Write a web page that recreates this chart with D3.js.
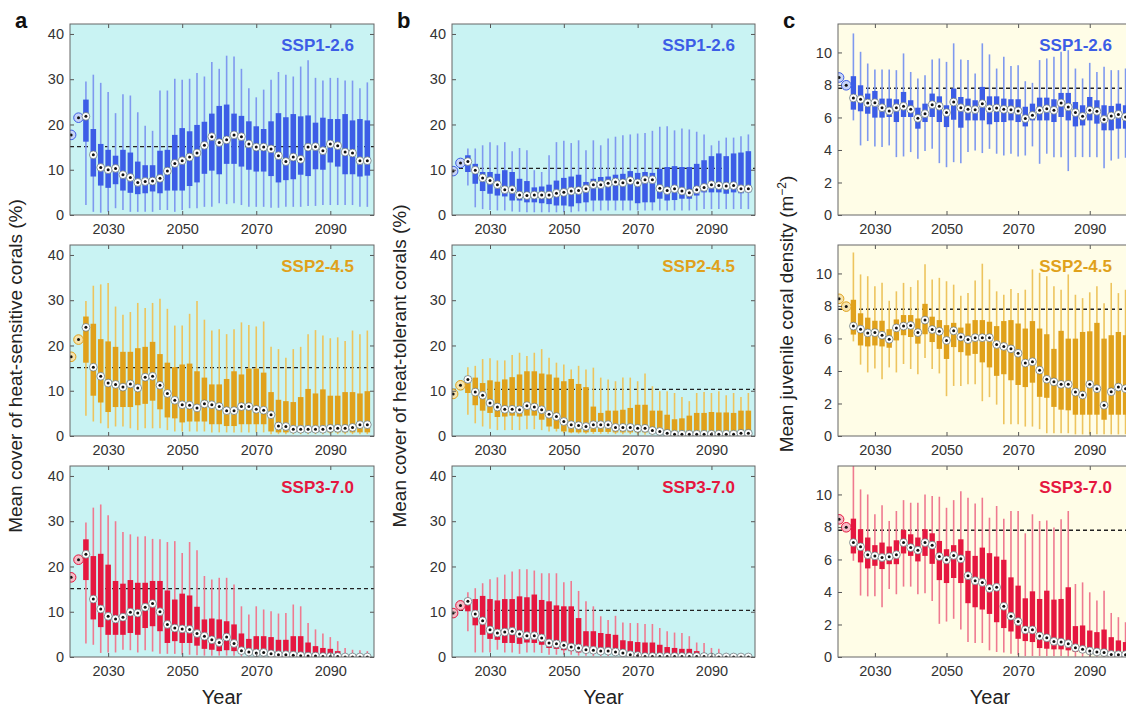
<!DOCTYPE html>
<html>
<head>
<meta charset="utf-8">
<script src="https://cdn.jsdelivr.net/npm/d3@7"></script>
<style>
  body { margin: 0; background: #fff; }
  svg { display: block; font-family: "Liberation Sans", Arial, sans-serif; }
</style>
</head>
<body>
<svg></svg>
<script>
const width = 1126;
const height = 710;

/* -------------------------
   DATA
--------------------------*/
const years = [2020, 2022, 2024, 2026, 2028, 2030, 2032, 2034, 2036, 2038, 2040,
  2042, 2044, 2046, 2048, 2050, 2052, 2054, 2056, 2058, 2060, 2062, 2064, 2066,
  2068, 2070, 2072, 2074, 2076, 2078, 2080, 2082, 2084, 2086, 2088, 2090, 2092,
  2094, 2096, 2098, 2100];

const scenarios = ["SSP1-2.6", "SSP2-4.5", "SSP3-7.0"];
const panelLetters = ["a", "b", "c"];
const yTitles = [
  "Mean cover of heat-sensitive corals (%)",
  "Mean cover of heat-tolerant corals (%)",
  "Mean juvenile coral density (m"
];
const xTicks = [2030, 2050, 2070, 2090];
const yTicksCover = [0, 10, 20, 30, 40];
const yTicksDensity = [0, 2, 4, 6, 8, 10];

// reference (dashed) levels per panel column
const refLevels = [15.1, 10.3, 7.8];

// first two years (2020, 2022) are single points, per scenario
const sensStart = [[17.7, 21.5], [17.5, 21.3], [17.6, 21.5]];
const tolStart = [[9.7, 11.5], [9.3, 11.2], [9.7, 11.4]];
const juvStart = [[8.46, 7.98], [8.44, 7.96], [8.47, 7.98]];

// boxes 2024..2100: [whisker low, q1, median, q3, whisker high]
const sensSSP1 = [
  [2.2,16.2,21.8,25.5,29.5],[0.7,8.5,13.3,19.0,31.0],[0.5,6.5,10.5,15.7,29.2],[0.7,6.0,10.0,14.4,27.2],
  [1.5,6.8,10.3,13.1,22.5],[1.1,5.4,8.9,14.4,26.7],[0.7,4.9,8.3,13.8,26.4],[0.7,4.6,7.2,11.8,22.7],
  [0.7,4.8,7.4,11.0,19.7],[0.7,5.2,7.5,11.0,18.6],[1.1,4.8,8.1,14.2,27.5],[1.1,5.4,9.7,14.4,27.5],
  [0.7,5.4,11.4,17.7,30.1],[1.1,5.4,12.0,19.2,29.9],[1.5,6.4,12.8,18.5,30.1],[1.5,7.2,13.7,19.9,31.4],
  [1.8,9.1,15.4,20.6,30.6],[1.8,9.8,17.3,22.4,33.8],[2.6,9.0,16.0,24.1,32.3],[2.4,11.3,16.6,24.4,35.2],
  [2.6,11.3,17.7,22.4,35.0],[2.2,10.7,17.3,21.9,32.3],[1.8,10.0,15.7,20.7,28.0],[1.8,9.6,15.0,19.6,26.0],
  [1.8,9.6,15.0,19.0,27.7],[1.6,8.6,14.6,20.7,29.9],[1.6,7.2,13.1,22.5,31.6],[1.8,7.7,11.8,21.6,31.0],
  [1.8,7.9,12.8,22.3,30.6],[1.8,8.9,12.3,21.8,32.8],[2.0,8.6,15.0,22.0,34.2],[2.0,10.1,15.1,20.4,30.3],
  [2.2,10.0,14.2,21.5,29.7],[2.2,11.6,15.7,21.2,30.3],[2.2,10.7,15.3,21.2,30.3],[2.2,9.0,13.9,22.3,29.7],
  [2.2,9.0,13.7,20.9,29.7],[1.8,8.5,12.0,21.2,28.0],[1.8,8.7,12.0,20.9,29.3]
];
const sensSSP2 = [
  [4.5,16.2,24.0,26.4,29.8],[3.2,8.9,15.2,24.8,33.2],[2.8,7.4,13.2,21.4,33.5],[1.7,5.3,11.7,20.9,33.8],
  [2.1,6.4,11.4,19.7,28.6],[2.1,6.4,10.8,18.6,26.8],[1.7,6.4,11.5,18.6,27.4],[1.3,6.8,10.6,19.4,29.4],
  [1.7,7.1,13.0,19.7,28.3],[1.7,7.8,13.2,20.8,29.4],[1.7,5.9,11.2,18.1,30.3],[1.3,4.1,9.4,16.2,28.1],
  [1.0,3.9,7.9,15.2,24.4],[1.0,3.0,6.9,15.8,24.4],[1.0,3.2,6.8,16.0,27.0],[1.0,3.2,6.2,14.3,29.8],
  [1.0,3.2,7.1,12.9,25.7],[0.8,2.6,6.9,11.4,23.3],[0.8,2.6,6.5,11.4,23.6],[0.8,2.2,5.6,12.6,22.5],
  [0.8,2.2,5.6,14.3,23.6],[0.8,2.6,6.5,13.6,25.1],[0.8,2.6,6.5,14.9,24.5],[0.8,2.6,5.9,14.9,24.2],
  [0.8,2.6,5.7,14.0,25.3],[0.4,1.0,4.7,9.7,19.7],[0.4,0.8,2.2,8.0,19.2],[0.4,0.8,2.1,7.7,17.3],
  [0.4,0.8,1.5,7.5,19.2],[0.4,0.8,1.5,8.6,19.7],[0.4,0.8,1.5,10.4,22.5],[0.4,0.8,1.5,9.4,23.4],
  [0.4,0.8,1.5,10.3,22.2],[0.4,0.8,1.7,8.9,21.6],[0.4,0.8,1.7,8.9,21.8],[0.4,0.8,1.7,9.7,21.0],
  [0.4,0.8,1.9,9.7,23.3],[0.4,0.8,2.5,9.4,22.5],[0.4,0.8,2.5,9.9,23.3]
];
const sensSSP3 = [
  [3.0,17.0,22.7,26.0,29.7],[2.7,8.3,12.8,22.3,33.0],[0.9,6.6,10.6,22.8,33.7],[1.0,4.9,9.0,20.4,31.3],
  [1.0,4.9,8.4,16.8,30.0],[1.6,4.9,8.8,16.2,27.6],[1.5,5.3,9.9,17.0,27.1],[1.0,4.9,9.7,16.4,26.6],
  [1.5,6.4,11.0,16.4,26.7],[1.2,6.8,11.8,16.8,26.1],[0.7,5.7,10.0,16.8,26.0],[0.7,3.1,7.2,14.7,25.4],
  [0.7,3.5,6.4,12.7,25.6],[0.5,3.1,6.2,14.0,23.0],[0.5,3.1,6.1,13.6,25.4],[0.4,2.5,5.2,11.1,23.6],
  [0.3,1.8,4.6,8.3,17.9],[0.3,1.6,3.8,8.5,17.1],[0.3,1.3,3.2,8.3,17.5],[0.3,1.5,4.4,7.9,17.5],
  [0.3,1.3,3.0,7.2,16.0],[0.1,0.9,1.4,5.2,11.2],[0.1,0.7,1.1,4.0,9.4],[0.1,0.5,0.9,4.6,11.2],
  [0.1,0.5,1.0,4.6,10.5],[0.1,0.4,0.7,4.4,10.1],[0.1,0.3,0.5,3.8,9.6],[0.1,0.3,0.5,3.8,9.7],
  [0.1,0.2,0.4,4.6,11.6],[0.1,0.2,0.3,4.6,11.2],[0,0.1,0.2,3.2,7.5],[0,0.1,0.2,2.4,6.1],
  [0,0.1,0.1,2.0,5.2],[0,0.05,0.1,1.8,4.4],[0,0,0.1,1.3,3.5],[0,0,0,0.5,2.0],
  [0,0,0,0.3,1.6],[0,0,0,0.2,1.5],[0,0,0,0.1,1.3]
];

const tolSSP1 = [
  [6.5,9.5,11.8,13.2,14.7],[1.7,6.9,9.9,11.3,14.7],[1.3,5.3,8.2,9.5,15.4],[1.1,4.7,7.6,9.5,16.1],
  [1.0,4.3,6.7,9.1,15.4],[1.0,4.1,5.6,9.9,16.1],[0.8,3.2,5.6,9.5,14.1],[0.7,3.2,4.4,8.0,14.8],
  [0.6,2.8,4.3,7.5,14.3],[0.6,2.8,4.4,6.1,9.9],[0.6,2.6,4.4,6.3,9.5],[0.6,2.4,4.4,6.7,13.2],
  [0.6,2.1,4.8,7.6,16.1],[0.6,2.1,5.0,8.2,16.4],[0.6,1.9,5.3,8.5,15.9],[0.8,2.6,5.4,8.9,16.5],
  [0.8,2.8,5.8,7.3,14.3],[0.8,3.2,6.7,8.0,16.5],[1.0,3.2,6.7,8.4,15.4],[1.0,3.2,7.0,8.5,16.9],
  [1.0,3.2,7.3,8.9,17.3],[1.0,3.2,7.1,9.1,17.6],[1.0,3.2,7.6,9.7,17.8],[1.0,2.6,7.1,9.3,18.0],
  [1.0,2.8,7.8,9.5,18.1],[1.0,2.8,7.8,9.3,18.6],[1.0,3.6,5.9,10.2,19.5],[1.0,3.2,5.4,10.6,19.6],
  [1.0,3.3,5.8,10.8,18.7],[1.0,3.6,5.3,10.6,19.1],[1.0,3.6,4.9,10.6,18.9],[1.0,4.3,5.6,11.3,18.4],
  [1.3,5.0,6.1,12.1,17.8],[1.3,5.0,6.7,13.0,15.4],[1.3,5.0,6.5,13.6,16.4],[1.3,4.7,6.4,13.0,17.1],
  [1.3,5.0,6.5,13.6,17.1],[1.3,4.8,5.8,13.8,17.4],[1.3,5.0,5.8,14.1,17.8]
];
const tolSSP2 = [
  [4.7,9.5,12.5,12.9,15.2],[2.8,6.8,9.7,12.9,15.5],[2.1,5.6,9.0,11.7,17.0],[1.6,5.1,7.3,12.3,17.2],
  [1.3,4.2,6.4,12.0,16.7],[1.3,4.3,5.9,12.5,16.7],[1.3,4.5,5.9,13.0,17.9],[1.3,4.3,5.8,13.6,18.4],
  [1.5,4.5,6.7,14.3,17.7],[1.5,4.5,6.4,14.3,18.4],[1.3,3.6,5.8,13.8,19.2],[1.0,2.1,4.8,13.6,17.3],
  [1.0,1.6,4.3,12.9,16.2],[0.6,1.0,3.2,12.1,15.8],[0.6,0.8,2.5,12.6,14.7],[0.5,0.8,2.3,11.5,15.5],
  [0.5,0.8,2.1,10.8,14.7],[0.5,0.9,2.5,6.5,15.1],[0.5,0.9,2.5,5.1,12.9],[0.5,0.9,2.5,5.6,12.5],
  [0.4,0.8,1.9,5.6,12.1],[0.4,0.8,1.9,5.8,12.9],[0.4,0.8,1.9,6.2,12.9],[0.3,0.8,1.7,6.9,12.1],
  [0.3,0.8,1.7,6.9,13.8],[0.2,0.6,1.2,5.6,11.0],[0.2,0.6,1.0,5.6,9.9],[0.1,0.4,0.6,4.7,9.9],
  [0.1,0.3,0.4,3.7,9.5],[0.1,0.3,0.4,3.9,8.6],[0.1,0.3,0.4,4.5,7.7],[0.1,0.3,0.4,5.1,9.5],
  [0.1,0.3,0.4,5.1,9.7],[0.1,0.3,0.4,5.3,9.5],[0.1,0.3,0.4,5.2,9.9],[0.1,0.3,0.4,5.2,9.0],
  [0.1,0.3,0.4,5.1,9.5],[0.1,0.3,0.6,5.6,8.6],[0.1,0.3,0.6,5.6,9.5]
];
const tolSSP3 = [
  [5.7,10.1,12.3,12.8,14.3],[1.0,7.0,9.5,12.8,15.2],[1.0,4.9,8.0,13.5,16.3],[1.0,4.0,6.0,12.8,17.2],
  [1.6,3.8,5.3,12.5,17.6],[1.0,3.1,5.5,12.8,18.2],[1.0,3.1,5.7,12.8,18.9],[0.7,2.9,5.1,13.4,19.4],
  [1.0,3.2,4.7,13.2,19.4],[1.0,3.1,4.7,13.8,19.1],[0.9,2.7,4.2,12.6,18.5],[0.5,2.0,3.1,12.3,18.5],
  [0.5,1.8,2.9,11.4,18.5],[0.5,1.5,2.6,11.2,16.5],[0.5,1.3,2.2,11.2,16.8],[0.3,1.0,2.0,8.6,14.6],
  [0.3,0.9,1.6,5.7,12.3],[0.2,0.8,1.5,5.7,11.2],[0.2,0.7,1.3,5.3,9.0],[0.2,0.7,1.3,5.1,8.2],
  [0.2,0.6,1.1,4.9,9.1],[0.1,0.4,0.9,3.7,7.6],[0.1,0.3,0.5,3.5,7.5],[0,0.2,0.3,3.3,7.5],
  [0,0.1,0.1,3.2,7.3],[0,0.1,0.1,3.2,7.3],[0,0,0.1,2.7,6.4],[0,0,0.1,2.2,5.7],
  [0,0,0.1,2.0,5.4],[0,0,0.1,1.8,5.3],[0,0,0.1,1.8,4.6],[0,0,0.1,1.3,3.2],
  [0,0,0.1,0.5,3.1],[0,0,0,0.3,2.0],[0,0,0,0.2,1.8],[0,0,0,0.1,0.9],
  [0,0,0,0,0.5],[0,0,0,0,0.3],[0,0,0,0,0.2]
];

const juvSSP1 = [
  [5.82,6.48,7.20,8.54,11.17],[4.28,6.38,7.12,7.98,10.04],[4.55,6.23,6.89,7.47,9.32],[4.22,5.99,6.91,7.63,8.95],
  [4.18,5.99,6.60,7.16,8.95],[4.28,6.03,6.40,7.16,8.95],[3.56,5.72,6.60,7.12,8.91],[3.60,6.03,6.69,7.57,9.94],
  [3.87,6.03,6.50,7.06,8.80],[3.46,5.31,5.95,6.60,8.40],[3.93,5.72,6.23,6.85,8.60],[4.07,6.03,6.79,7.47,9.57],
  [3.19,5.72,6.69,7.30,9.63],[2.94,5.41,6.30,6.75,9.42],[3.25,5.86,6.95,7.78,10.56],[3.19,5.37,6.60,7.26,9.57],
  [3.87,5.82,6.50,7.16,9.53],[3.97,5.82,6.48,7.06,8.70],[3.81,5.82,6.85,7.88,10.56],[4.07,5.58,6.54,7.30,9.88],
  [3.77,5.72,6.58,7.30,9.01],[3.66,5.72,6.50,7.16,9.73],[3.77,5.82,6.48,7.12,9.16],[3.60,5.72,6.40,7.12,9.22],
  [3.66,5.45,5.93,6.66,8.23],[4.22,5.82,6.13,6.85,8.13],[3.15,5.82,6.44,7.22,9.53],[3.77,5.82,6.54,7.22,9.63],
  [3.56,5.72,6.44,7.12,9.73],[3.56,6.03,6.89,7.51,10.04],[2.70,5.82,6.65,7.51,10.14],[3.56,5.45,6.30,6.95,9.01],
  [3.56,5.51,6.07,6.75,8.40],[3.56,5.82,6.44,7.26,9.36],[3.56,5.62,6.38,7.06,8.80],[2.88,5.21,5.88,6.75,9.12],
  [3.35,5.21,6.09,6.71,8.91],[3.46,5.31,6.19,6.85,8.91],[3.52,5.31,6.03,6.75,9.01]
];
const juvSSP2 = [
  [5.82,6.24,6.76,8.38,11.29],[4.39,5.57,6.57,7.55,9.94],[3.91,5.51,6.34,7.28,9.83],[4.16,5.57,6.36,7.09,9.21],
  [3.49,5.51,6.20,7.09,9.42],[4.22,5.43,5.95,6.57,8.32],[3.91,5.88,6.65,7.17,8.90],[4.43,6.20,6.76,7.44,9.42],
  [4.12,6.09,6.80,7.44,9.17],[3.80,5.68,6.36,7.23,9.58],[4.80,6.26,7.13,8.13,10.56],[4.12,5.78,6.55,7.34,9.63],
  [3.85,5.36,6.44,7.13,9.73],[2.45,4.74,5.88,6.82,9.52],[3.08,5.47,6.47,6.96,9.31],[3.08,5.16,6.09,6.67,8.63],
  [3.18,4.95,5.93,6.92,8.79],[3.18,5.05,6.05,7.13,9.56],[2.14,4.53,6.05,7.13,10.60],[2.39,4.22,6.05,7.03,9.63],
  [1.93,3.70,5.63,6.76,8.90],[0.73,3.80,5.51,7.07,8.69],[0.73,3.43,5.36,7.13,9.04],[0.73,3.14,5.09,6.92,8.79],
  [0.58,3.01,4.49,6.61,9.00],[0.58,3.28,4.57,7.07,10.25],[0.42,2.41,4.05,6.61,10.04],[0.17,2.35,3.49,6.26,9.83],
  [0.17,1.79,3.33,5.36,9.21],[0.17,1.62,3.18,6.47,9.00],[0.17,1.58,3.18,5.99,9.94],[0.10,1.31,2.70,5.99,8.69],
  [0.10,1.31,2.52,6.40,8.48],[0.10,1.31,3.18,6.44,8.84],[0.10,1.31,2.91,6.96,9.21],[0.10,1.00,1.89,5.99,8.17],
  [0.10,1.31,2.72,6.20,9.42],[0.10,1.31,3.01,6.40,8.79],[0.10,1.31,2.91,6.20,9.00]
];
const juvSSP3 = [
  [5.92,6.37,7.04,8.51,12.50],[3.78,5.82,6.78,7.86,10.31],[3.73,5.45,6.29,7.35,10.00],[3.73,5.61,6.22,6.88,8.78],
  [3.06,5.41,6.12,7.04,9.33],[4.18,5.71,6.16,6.80,8.37],[3.86,5.71,6.29,7.18,8.98],[4.33,6.37,7.04,7.82,9.65],
  [4.33,6.22,6.73,7.55,9.49],[3.86,5.88,6.57,7.35,9.49],[3.92,6.22,7.04,7.86,10.00],[3.45,5.73,6.88,7.61,9.90],
  [2.04,4.73,6.18,7.14,9.86],[2.18,4.55,5.98,6.63,9.18],[2.35,4.86,6.25,6.88,9.65],[1.69,4.55,6.04,7.24,10.20],
  [0.92,3.31,5.00,6.53,9.80],[0.86,3.06,4.69,6.22,9.45],[0.86,2.92,4.59,6.73,9.80],[0.41,2.65,4.22,6.39,8.57],
  [0.31,2.14,4.29,6.18,9.29],[0.27,1.78,3.12,5.98,8.51],[0.20,1.57,2.51,4.90,8.98],[0.10,1.12,2.18,4.39,8.98],
  [0.06,0.98,1.67,3.61,7.61],[0.06,0.92,1.67,4.04,8.78],[0.06,0.55,1.29,3.57,8.37],[0.06,0.51,1.18,4.08,8.40],
  [0.06,0.47,0.96,3.53,7.96],[0.06,0.47,0.92,3.57,8.47],[0.04,0.41,0.82,4.29,8.98],[0.02,0.31,0.57,1.90,4.49],
  [0.02,0.27,0.47,1.94,4.59],[0.02,0.20,0.37,1.63,3.98],[0.02,0.20,0.31,1.53,3.47],[0.02,0.14,0.27,1.69,4.08],
  [0.01,0.10,0.16,1.22,2.71],[0.01,0.08,0.14,1.02,2.45],[0.01,0.08,0.14,0.92,2.14]
];

const boxData = [
  [sensSSP1, sensSSP2, sensSSP3],
  [tolSSP1, tolSSP2, tolSSP3],
  [juvSSP1, juvSSP2, juvSSP3]
];
const startData = [sensStart, tolStart, juvStart];

/* -------------------------
   STYLE / LAYOUT
--------------------------*/
const BOX = ["#3C5DE6", "#E0A11B", "#E5173F"];
const WHISK = ["#7F99EF", "#EDC45E", "#EF7A90"];
const START_FILL = ["#C7D4F8", "#F5E3AC", "#F6BBC6"];
const BG = ["#C9F3F3", "#C9F3F3", "#FFFDE7"];

const cols = [
  { left: 70, right: 374, titleX: 22, titleY: 366 },
  { left: 452, right: 755, titleX: 406, titleY: 366 },
  { left: 838, right: 1132, titleX: 793, titleY: 314 }
];
const rowTop = [24, 245, 466];
const plotH = 191;

const svg = d3.select("svg")
  .attr("width", width)
  .attr("height", height);

const defs = svg.append("defs");

cols.forEach((col, ci) => {
  const pw = col.right - col.left;
  const x = d3.scaleLinear().domain([2019.7, 2101.8]).range([0, pw]);
  const y = ci < 2
    ? d3.scaleLinear().domain([0, 42.2]).range([plotH, 0])
    : d3.scaleLinear().domain([0, 11.75]).range([plotH, 0]);
  const yTicks = ci < 2 ? yTicksCover : yTicksDensity;
  const bw = x(2021.5) - x(2020);

  rowTop.forEach((top, ri) => {
    const g = svg.append("g").attr("transform", `translate(${col.left},${top})`);
    const clipId = `clip-${ci}-${ri}`;
    defs.append("clipPath").attr("id", clipId)
      .append("rect").attr("width", pw).attr("height", plotH);

    g.append("rect")
      .attr("width", pw).attr("height", plotH)
      .attr("fill", BG[ci]);

    const plot = g.append("g").attr("clip-path", `url(#${clipId})`);

    // reference level
    plot.append("line")
      .attr("x1", 0).attr("x2", pw)
      .attr("y1", y(refLevels[ci])).attr("y2", y(refLevels[ci]))
      .attr("stroke", "#222").attr("stroke-width", 1.4)
      .attr("stroke-dasharray", "4,3");

    const rows = boxData[ci][ri].map((d, i) => ({
      year: years[i + 2], lo: d[0], q1: d[1], med: d[2], q3: d[3], hi: d[4]
    }));

    // whiskers
    plot.selectAll(".wh")
      .data(rows)
      .enter()
      .append("line")
      .attr("x1", d => x(d.year)).attr("x2", d => x(d.year))
      .attr("y1", d => y(d.lo)).attr("y2", d => y(d.hi))
      .attr("stroke", WHISK[ri]).attr("stroke-width", 1.6);

    // boxes
    plot.selectAll(".bx")
      .data(rows)
      .enter()
      .append("rect")
      .attr("x", d => x(d.year) - bw / 2)
      .attr("width", bw)
      .attr("y", d => y(d.q3))
      .attr("height", d => Math.max(y(d.q1) - y(d.q3), 1))
      .attr("fill", BOX[ri]);

    // starting points
    const starts = startData[ci][ri].map((v, i) => ({ year: years[i], med: v }));
    plot.selectAll(".st")
      .data(starts)
      .enter()
      .append("circle")
      .attr("cx", d => x(d.year)).attr("cy", d => y(d.med))
      .attr("r", 4.8)
      .attr("fill", START_FILL[ri])
      .attr("stroke", BOX[ri]).attr("stroke-width", 1);

    // medians
    plot.selectAll(".md")
      .data(rows)
      .enter()
      .append("circle")
      .attr("cx", d => x(d.year)).attr("cy", d => y(d.med))
      .attr("r", 3.9)
      .attr("fill", "#fff")
      .attr("stroke", "#5d6f74").attr("stroke-width", 0.7);

    plot.selectAll(".dot")
      .data(starts.concat(rows))
      .enter()
      .append("circle")
      .attr("cx", d => x(d.year)).attr("cy", d => y(d.med))
      .attr("r", 1.5)
      .attr("fill", "#111");

    // axes (ticks inward, MATLAB style)
    const axL = g.append("g").call(d3.axisLeft(y).tickValues(yTicks).tickSize(-4).tickPadding(6));
    const axR = g.append("g").attr("transform", `translate(${pw},0)`)
      .call(d3.axisRight(y).tickValues(yTicks).tickSize(-4).tickFormat(""));
    const axB = g.append("g").attr("transform", `translate(0,${plotH})`)
      .call(d3.axisBottom(x).tickValues(xTicks).tickSize(-4).tickPadding(9).tickFormat(d3.format("d")));
    const axT = g.append("g")
      .call(d3.axisTop(x).tickValues(xTicks).tickSize(-4).tickFormat(""));

    [axL, axR, axB, axT].forEach(ax => {
      ax.select(".domain").remove();
      ax.selectAll(".tick line").attr("stroke", "#555");
      ax.selectAll(".tick text")
        .attr("fill", "#333")
        .style("font-size", "14.5px")
        .style("font-family", "'Liberation Sans', Arial, sans-serif");
    });

    g.append("rect")
      .attr("width", pw).attr("height", plotH)
      .attr("fill", "none")
      .attr("stroke", "#666").attr("stroke-width", 1);

    // scenario label
    g.append("text")
      .attr("x", pw - 20)
      .attr("y", 27)
      .attr("text-anchor", "end")
      .attr("fill", BOX[ri])
      .style("font-size", "17px")
      .style("font-weight", "bold")
      .text(scenarios[ri]);
  });

  // x title
  svg.append("text")
    .attr("x", col.left + Math.min(pw, width - col.left) / 2 + (ci === 2 ? 8 : 0))
    .attr("y", 704)
    .attr("text-anchor", "middle")
    .attr("fill", "#222")
    .style("font-size", "20px")
    .text("Year");

  // y title
  const yt = svg.append("text")
    .attr("transform", `translate(${col.titleX},${col.titleY}) rotate(-90)`)
    .attr("text-anchor", "middle")
    .attr("fill", "#222")
    .style("font-size", "19px")
    .text(yTitles[ci]);
  if (ci === 2) {
    yt.append("tspan").attr("dy", -7).style("font-size", "12px").text("−2");
    yt.append("tspan").attr("dy", 7).text(")");
  }

  // panel letter
  svg.append("text")
    .attr("x", col.left - 55)
    .attr("y", 28)
    .attr("fill", "#111")
    .style("font-size", "22px")
    .style("font-weight", "bold")
    .text(panelLetters[ci]);
});
</script>
</body>
</html>
